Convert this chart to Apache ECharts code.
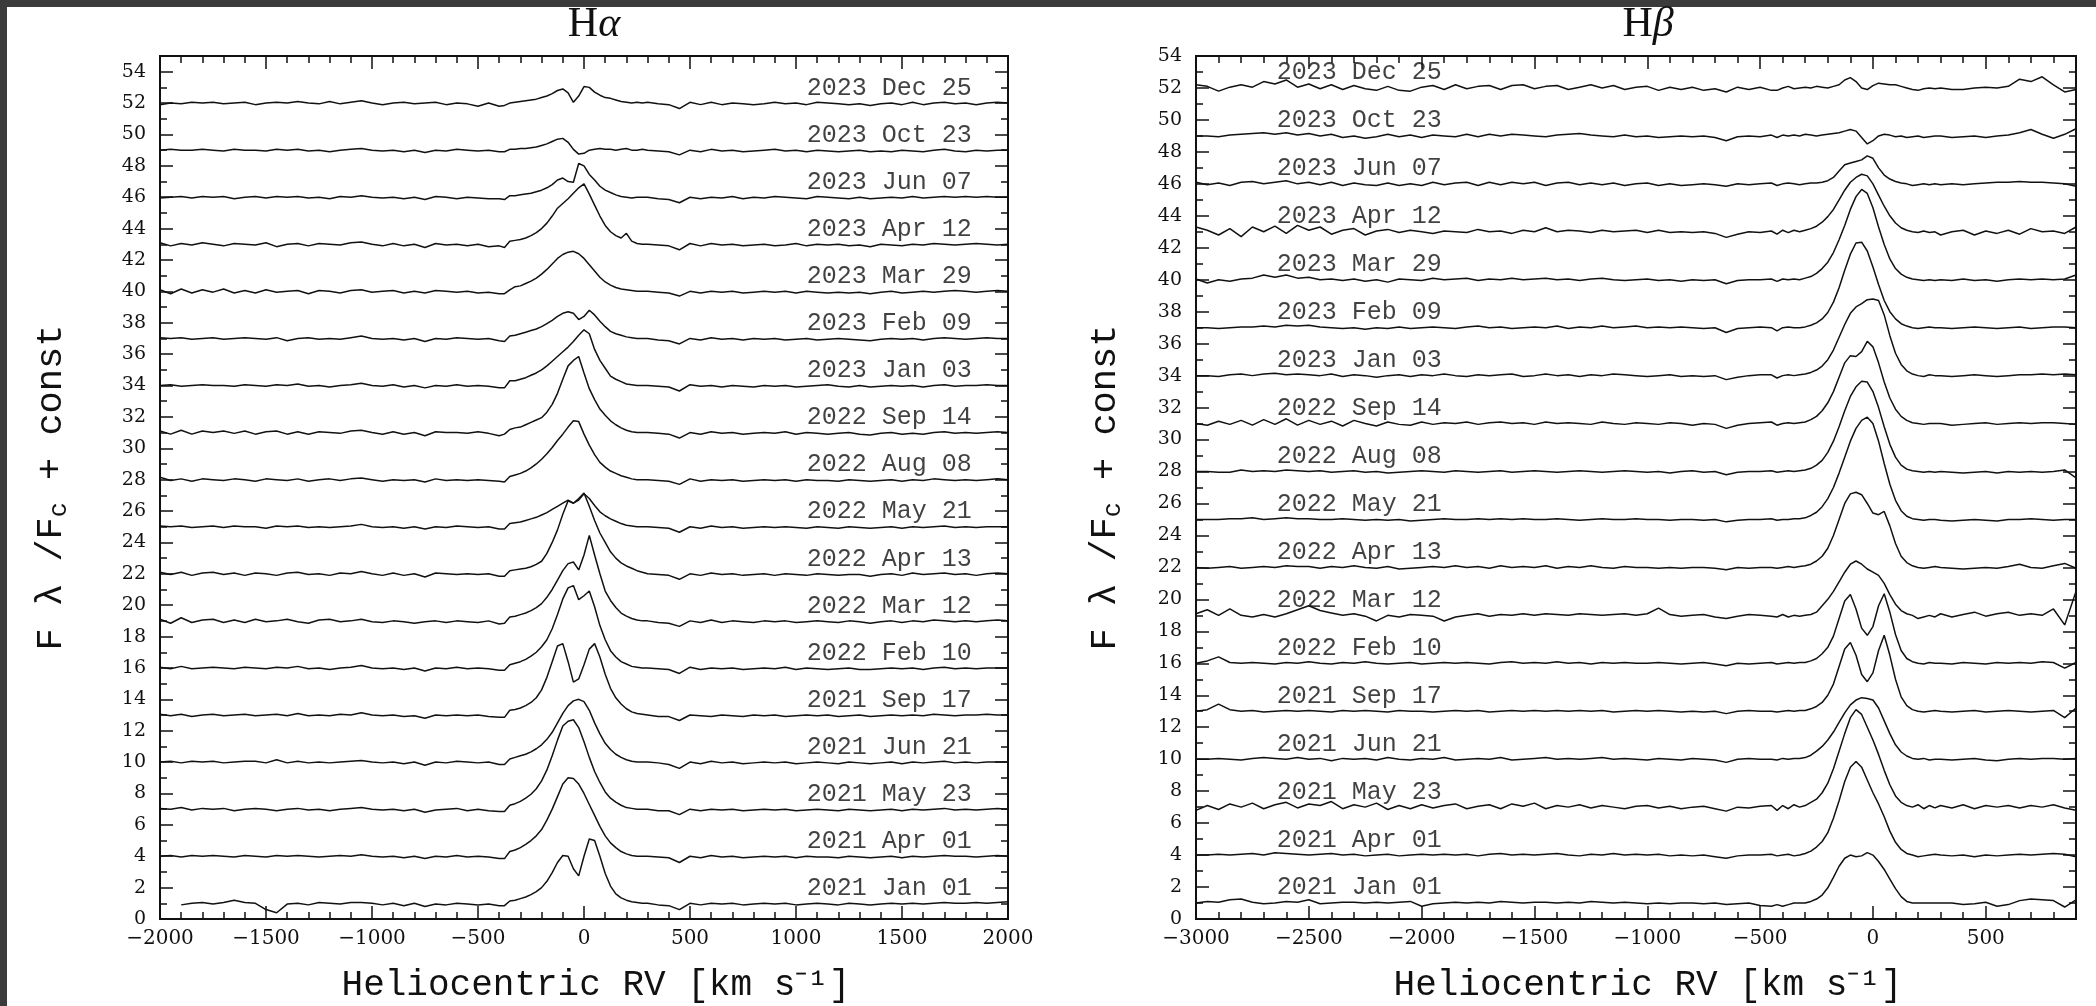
<!DOCTYPE html>
<html>
<head>
<meta charset="utf-8">
<title>H-alpha / H-beta spectra</title>
<script src="https://cdn.jsdelivr.net/npm/echarts/dist/echarts.min.js"></script>
<style>
  html, body { margin: 0; padding: 0; background: #fff; }
  #chart { width: 2096px; height: 1006px; }
</style>
</head>
<body>
<div id="chart"></div>
<script>
// observation dates, top spectrum first
const dates = ['2023 Dec 25', '2023 Oct 23', '2023 Jun 07', '2023 Apr 12', '2023 Mar 29', '2023 Feb 09',
  '2023 Jan 03', '2022 Sep 14', '2022 Aug 08', '2022 May 21', '2022 Apr 13', '2022 Mar 12',
  '2022 Feb 10', '2021 Sep 17', '2021 Jun 21', '2021 May 23', '2021 Apr 01', '2021 Jan 01']

// vertical shift (const) of each spectrum
const haOffsets = [52, 49, 46, 43, 40, 37, 34, 31, 28, 25, 22, 19, 16, 13, 10, 7, 4, 1]
const hbOffsets = [52, 49, 46, 43, 40, 37, 34, 31, 28, 25, 22, 19, 16, 13, 10, 7, 4, 1]

// velocity grids (km/s)
const haVel = [
  -2000,-1950,-1900,-1850,-1800,-1750,-1700,-1650,-1600,-1550,-1500,-1450,-1400,-1350,-1300,-1250,-1200,-1150,-1100,-1050,-1000,-950,-900,-850,-800,-750,-700,-650,-600,-550,-500,-450,-400,
  -375,-350,-325,-300,-275,-250,-225,-200,-175,-150,-125,-100,-75,-50,-25,0,25,50,75,100,125,150,175,200,225,250,275,
  300,350,400,450,500,550,600,650,700,750,800,850,900,950,1000,1050,1100,1150,1200,1250,1300,1350,1400,1450,1500,1550,1600,1650,1700,1750,1800,1850,1900,1950,2000]
const hbVel = [
  -3000,-2950,-2900,-2850,-2800,-2750,-2700,-2650,-2600,-2550,-2500,-2450,-2400,-2350,-2300,-2250,-2200,-2150,-2100,-2050,-2000,-1950,-1900,-1850,-1800,-1750,-1700,-1650,-1600,-1550,-1500,-1450,-1400,-1350,-1300,-1250,-1200,-1150,-1100,-1050,-1000,-950,-900,-850,-800,-750,-700,-650,-600,-550,-500,-450,
  -425,-400,-375,-350,-325,-300,-275,-250,-225,-200,-175,-150,-125,-100,-75,-50,-25,0,25,50,75,100,125,150,175,200,225,250,275,
  300,350,400,450,500,550,600,650,700,750,800,850,900]

// H-alpha: F/Fc - 1 (relative to each offset)
const ha_2023_Dec_25 = [
  -0.1,0,-0.05,0.05,0,0.05,-0.05,0,0.05,-0.1, 0,0.05,0,0.1,0,-0.05,0.1,-0.05,0.05,0.15, 0,-0.1,0,0.05,-0.05,0,0.05,-0.1,0,-0.05, -0.2,0,-0.2,
  -0.15,0,0.05,0.1,0.15,0.2,0.25,0.35,0.45,0.6, 0.8,0.9,0.65,0.05,0.45,1.05,1.0,0.7,0.5,0.35, 0.3,0.2,0.1,0.05,0,0.05,0,
  0.05,-0.05,-0.1,-0.35,0.05,-0.1,0.05,-0.1,0,-0.05, -0.1,-0.05,0.05,-0.05,0,-0.1,0.05,0,-0.05,-0.1, -0.05,-0.15,-0.05,0,-0.1,0.05,-0.1,0,0.05,-0.05, 0,-0.1,0,0.05,0]
const ha_2023_Oct_23 = [
  0,0.05,0,0,0.05,0,-0.05,0.05,0,0, -0.05,0.05,0,0.05,-0.05,0,-0.1,0,0.05,0.1, 0,-0.05,0,-0.1,0,-0.15,0,-0.05,0.05,0, -0.05,0,-0.1,
  -0.1,0.05,0.05,0.1,0.1,0.15,0.2,0.3,0.4,0.55, 0.7,0.75,0.5,0.05,-0.25,-0.2,0,0.05,0.1,0.05, 0.05,0,0.05,0.1,0,0,0.05,
  0,-0.05,-0.1,-0.3,0,-0.1,0.05,-0.05,0,-0.1, -0.05,0,0.05,-0.05,0,-0.1,0,-0.05,-0.1,-0.05, 0,-0.1,-0.05,-0.1,0,-0.05,-0.1,0,0.05,-0.05, -0.1,0,-0.05,0,0]
const ha_2023_Jun_07 = [
  -0.05,0,0.05,-0.05,0.05,0,0.05,-0.1,0,0.05, -0.05,0.05,0,0.05,-0.05,0,-0.1,0.05,0,0.1, 0,-0.05,0,-0.1,0,-0.15,0.05,0,-0.1,0, -0.05,-0.1,-0.1,
  -0.15,0.1,0.1,0.15,0.2,0.25,0.35,0.45,0.6,0.8, 1.1,1.22,1.0,0.95,2.15,2.0,1.45,1.1,0.7,0.45, 0.3,0.15,0.05,0,-0.05,0,0,
  0,-0.1,-0.15,-0.35,0,-0.1,0,-0.05,0.05,-0.1, 0,-0.05,0.05,0,-0.05,-0.1,0.05,0,-0.05,-0.1, 0,-0.1,-0.05,0,-0.05,0.05,-0.05,0,0.05,0, 0.05,0,0.05,0,0]
const ha_2023_Apr_12 = [
  0.1,-0.1,0.05,-0.05,0.1,0,-0.1,0.05,0,-0.05, 0.1,-0.15,0,0.05,-0.1,0.05,0,-0.05,0.1,0.15, 0,-0.1,0.05,-0.1,0,-0.2,0.05,-0.05,0,-0.1, 0,-0.15,-0.1,
  -0.2,0.2,0.25,0.3,0.4,0.55,0.75,1.0,1.35,1.8, 2.3,2.6,2.9,3.25,3.6,3.85,3.2,2.5,1.8,1.2, 0.8,0.55,0.4,0.7,0.2,0.05,0,
  0,-0.05,-0.1,-0.35,0.05,-0.1,0.05,-0.05,0,-0.1, -0.05,0,-0.1,-0.05,0.05,-0.1,0,-0.05,0,-0.1, -0.05,-0.15,0,-0.05,-0.1,0,-0.05,0.05,0,-0.05, 0,0.05,0,-0.05,0]
const ha_2023_Mar_29 = [
  0.1,-0.15,0.15,-0.1,0.1,-0.05,0.15,-0.1,0.05,-0.1, 0.1,-0.05,0,0.05,-0.15,0.05,0,-0.1,0.05,0.1, -0.05,0,0.05,-0.1,0,-0.1,0.05,0,-0.05,0, -0.1,-0.05,-0.15,
  -0.15,0.1,0.3,0.35,0.5,0.65,0.85,1.1,1.4,1.75, 2.1,2.35,2.5,2.55,2.4,2.1,1.7,1.3,0.9,0.6, 0.4,0.25,0.15,0.1,0.05,0,0,
  0,-0.05,-0.1,-0.3,0,-0.1,0,-0.05,0,-0.1, -0.05,0,-0.05,0,-0.1,0,-0.05,-0.1,-0.05,-0.1, -0.05,-0.15,-0.05,0,-0.1,-0.05,0,-0.05,0,0.05, 0,-0.05,0,0.05,0]
const ha_2023_Feb_09 = [
  0.05,0,0.05,-0.05,0,0.05,-0.05,0,0.05,0, -0.05,0.05,-0.15,0,0.05,-0.05,0,-0.05,0.05,0.15, 0,-0.05,0,-0.1,0,-0.2,0,-0.05,0.05,0, -0.05,0,-0.15,
  -0.2,0.15,0.2,0.3,0.4,0.5,0.6,0.75,0.95,1.15, 1.4,1.6,1.7,1.6,1.2,1.4,1.8,1.5,1.1,0.75, 0.45,0.3,0.2,0.1,0.05,0,0,
  0,-0.1,-0.15,-0.35,0,-0.1,0.05,-0.05,0,-0.1, 0,-0.05,0,-0.1,-0.05,0,-0.1,-0.05,0,-0.05, -0.1,-0.15,-0.05,0,-0.05,0,-0.1,0,0.05,0, -0.05,0,0.05,0,0]
const ha_2023_Jan_03 = [
  0,0.05,-0.05,0,0.05,0,0,-0.05,0.05,0, -0.05,0.05,0,0.1,-0.05,0,-0.1,0,0.05,0.15, 0,-0.05,0.05,-0.1,0,-0.15,0,-0.05,0.05,-0.05, 0,-0.05,-0.15,
  -0.15,0.3,0.3,0.4,0.5,0.65,0.8,1.0,1.25,1.55, 1.85,2.15,2.45,2.8,3.2,3.55,3.3,2.3,1.6,1.1, 0.6,0.4,0.25,0.1,0.05,0,0,
  0,-0.05,-0.1,-0.35,0.05,-0.05,0,-0.1,0,-0.05, -0.1,0,-0.05,0,-0.1,-0.05,0,0.05,-0.05,-0.1, 0,-0.1,-0.05,0,-0.05,0,-0.1,0,0.05,-0.05, 0,0,0.05,0,0]
const ha_2022_Sep_14 = [
  0.1,-0.1,0.15,-0.1,0.1,0,0.1,-0.05,0.1,-0.1, 0.05,0.1,-0.1,0.05,-0.1,0.05,0,-0.05,0.1,0.15, 0,-0.1,0.05,-0.1,0,-0.2,0.05,0,0,-0.05, 0.05,-0.05,-0.2,
  -0.1,0.2,0.3,0.35,0.5,0.65,0.8,0.95,1.3,1.8, 2.5,3.4,4.25,4.6,4.85,3.8,2.8,2.1,1.5,1.1, 0.75,0.5,0.3,0.15,0.05,0,0,
  0,-0.05,-0.1,-0.35,0,-0.1,0.05,-0.05,0,-0.1, -0.05,0,-0.05,0.05,-0.1,0,-0.05,-0.1,-0.05,0, -0.1,-0.15,-0.05,0,-0.1,-0.05,-0.1,0,0.05,-0.05, 0,-0.05,0,0.05,0]
const ha_2022_Aug_08 = [
  0.15,-0.05,0.05,-0.1,0.05,0,-0.05,0.05,0,-0.1, 0.05,0,-0.05,0.05,-0.1,0,0.05,-0.05,0.05,0.1, 0,-0.1,0,-0.05,0,-0.15,0.05,-0.05,0,-0.05, 0,-0.05,-0.1,
  -0.15,0.2,0.3,0.4,0.55,0.75,1.0,1.3,1.65,2.05, 2.5,2.9,3.35,3.75,3.7,2.9,2.2,1.6,1.1,0.8, 0.55,0.4,0.25,0.15,0.05,0,0,
  0,-0.05,-0.1,-0.3,0.05,-0.1,0,-0.05,0,-0.1, -0.05,0,-0.05,0,-0.1,0,-0.05,-0.05,-0.1,0, -0.05,-0.1,-0.05,0,-0.1,0,-0.05,0.05,0,-0.05, 0,-0.05,0,0.05,0]
const ha_2022_May_21 = [
  0.05,0,0.05,-0.05,0,0.05,-0.05,0.05,0,0, -0.1,0.05,0,0.05,-0.05,0,-0.05,0,0.05,0.15, 0,-0.05,0,-0.1,0,-0.15,0,-0.05,0.05,0, -0.05,0,-0.15,
  -0.15,0.2,0.25,0.3,0.4,0.5,0.6,0.75,0.9,1.1, 1.3,1.5,1.7,1.5,1.7,2.1,1.8,1.35,0.95,0.7, 0.5,0.35,0.2,0.1,0.05,0,0,
  0,-0.05,-0.1,-0.35,0,-0.1,0.05,-0.05,0,-0.1, -0.05,0,-0.05,0,-0.05,-0.1,0,-0.05,-0.1,0, -0.05,-0.1,-0.05,0,-0.1,0,-0.05,0,0.05,-0.05, 0,-0.05,0,0,0]
const ha_2022_Apr_13 = [
  0.1,-0.05,0.1,-0.1,0.05,0.1,-0.05,0.05,-0.1,0.05, 0,-0.1,0.05,0.1,-0.05,0,-0.1,0.05,0,0.15, 0,-0.1,0.05,-0.1,0,-0.2,0.05,0,-0.05,0, -0.05,0,-0.15,
  -0.15,0.2,0.25,0.3,0.35,0.45,0.6,0.8,1.3,2.0, 2.8,3.8,4.65,4.5,4.8,5.15,4.3,3.4,2.6,2.0, 1.4,1.0,0.7,0.5,0.35,0.2,0.1,
  0,-0.05,-0.1,-0.35,0,-0.1,0.05,-0.05,0,-0.1, -0.05,0,-0.1,0,-0.05,-0.1,0,-0.05,-0.1,-0.05, -0.05,-0.15,-0.05,0,-0.1,0.05,-0.05,0,0.05,-0.05, 0,-0.1,0,0.05,0]
const ha_2022_Mar_12 = [
  0.1,-0.15,0.2,-0.1,0.05,0.1,-0.1,0.05,-0.1,0.1, -0.05,0,0.1,-0.05,-0.15,0.05,0.1,-0.05,0,0.1, -0.05,-0.1,0,-0.05,-0.15,-0.05,0,-0.1,0,-0.05, -0.1,0,-0.2,
  -0.15,0.25,0.3,0.4,0.5,0.65,0.85,1.1,1.5,2.0, 2.6,3.2,3.65,3.75,3.25,4.2,5.45,4.2,3.0,1.9, 1.3,0.85,0.5,0.3,0.15,0.05,0,
  0,-0.1,-0.15,-0.35,0,-0.1,0.05,-0.1,0,-0.05, -0.1,0,-0.05,0,-0.1,-0.05,0,-0.05,-0.1,0, -0.05,-0.15,-0.05,0,-0.1,0,-0.05,0.05,0,-0.05, 0,-0.05,0,0.05,0]
const ha_2022_Feb_10 = [
  0.05,-0.05,0.1,-0.05,0,0.05,0,-0.05,0.05,0, -0.05,0.05,0,0.1,-0.05,0,-0.1,0,0.05,0.15, 0,-0.05,0,-0.1,0,-0.2,0,-0.05,0.05,-0.05, 0,-0.05,-0.15,
  -0.15,0.2,0.3,0.4,0.55,0.75,1.0,1.35,1.8,2.5, 3.4,4.4,5.1,5.25,4.35,4.6,4.9,3.9,2.7,1.8, 1.1,0.7,0.4,0.25,0.1,0.05,0,
  0,-0.05,-0.1,-0.35,0.05,-0.1,0,-0.05,0,-0.1, -0.05,0,-0.05,0.05,-0.1,0,-0.05,-0.1,-0.05,0, -0.1,-0.1,-0.05,0,-0.05,0,-0.1,0,0.05,-0.05, 0,-0.05,0,0,0]
const ha_2021_Sep_17 = [
  0.05,-0.05,0.05,-0.1,0,0.05,-0.05,0,0.05,-0.05, 0,0.05,-0.05,0.1,-0.05,0,-0.05,0.05,0,0.15, 0,-0.05,0,-0.1,-0.05,-0.2,0,-0.05,0,-0.05, 0,-0.1,-0.15,
  -0.15,0.3,0.35,0.45,0.6,0.8,1.1,1.6,2.4,3.4, 4.4,4.55,3.4,2.1,2.3,3.2,4.2,4.55,3.7,2.6, 1.7,1.1,0.7,0.4,0.2,0.1,0.05,
  0,-0.1,-0.1,-0.35,0,-0.05,-0.1,0,-0.05,-0.1, 0,-0.05,0,-0.1,-0.05,0,-0.05,0,-0.1,-0.05, 0,-0.1,-0.05,0,-0.05,0,-0.05,0.05,0,-0.05, 0,0,0.05,0,0]
const ha_2021_Jun_21 = [
  0,0.05,-0.05,0.05,0,0.05,-0.05,0,0.05,0.05, -0.05,0.15,-0.05,0.05,-0.05,0,-0.05,0,0.05,0.1, 0,-0.05,0,-0.1,0,-0.2,0,-0.05,0.05,0, -0.05,0,-0.15,
  -0.15,0.2,0.3,0.4,0.5,0.65,0.85,1.1,1.45,1.9, 2.5,3.1,3.6,3.9,4.0,3.85,3.3,2.5,1.8,1.2, 0.8,0.5,0.3,0.15,0.05,0,0,
  0,-0.05,-0.15,-0.4,0,-0.1,0.05,-0.05,0,-0.1, -0.05,0,-0.05,0,-0.1,-0.05,0,-0.05,-0.1,0, -0.05,-0.1,-0.05,0,-0.1,0,-0.05,0,0.05,-0.05, 0,-0.05,0,0,0]
const ha_2021_May_23 = [
  0.05,0,0.1,-0.05,0.05,0,0.05,-0.1,0,0.05, 0,-0.1,0,0.05,-0.05,0,-0.1,0,0.05,0.1, 0,-0.05,0,-0.1,0,-0.2,-0.05,0,0.05,-0.1, 0,-0.1,-0.15,
  -0.15,0.25,0.35,0.5,0.7,0.95,1.3,1.8,2.5,3.4, 4.4,5.3,5.6,5.7,5.2,4.3,3.3,2.4,1.7,1.1, 0.7,0.45,0.25,0.1,0.05,0,0,
  0,-0.1,-0.1,-0.35,0,-0.1,0,-0.05,0,-0.1, -0.05,0,-0.05,0,-0.1,-0.05,0,-0.05,-0.1,0, -0.05,-0.1,-0.05,0,-0.1,0,-0.05,0,0.05,-0.05, 0,-0.05,0,0.05,0]
const ha_2021_Apr_01 = [
  0,0.05,-0.05,0.05,0,0.05,0,-0.05,0.05,0, -0.05,0.05,0,0.05,0,-0.05,0,0.05,0,0.1, 0,-0.05,0,-0.1,0,-0.15,0,-0.05,0.05,-0.05, 0,-0.05,-0.15,
  -0.15,0.3,0.4,0.55,0.75,1.0,1.3,1.7,2.3,3.0, 3.8,4.6,5.0,4.95,4.6,4.0,3.3,2.6,1.9,1.3, 0.85,0.55,0.3,0.15,0.05,0,0,
  0,-0.05,-0.1,-0.4,0,-0.1,0.05,-0.05,0,-0.1, -0.05,0,-0.05,0,-0.1,0,-0.05,-0.05,-0.1,0, -0.05,-0.1,-0.05,0,-0.1,0,-0.05,0,0.05,0, 0,-0.05,0,0.05,0]
const ha_2021_Jan_01 = [
  null,null,-0.1,0,0.05,-0.05,0.05,0.2,0.05,0, -0.4,-0.6,-0.05,0,-0.1,0.05,0,-0.05,0.05,0.05, 0,-0.1,0,-0.15,0,-0.2,-0.05,-0.1,0,-0.05, -0.1,-0.05,-0.15,
  -0.15,0.15,0.2,0.3,0.4,0.55,0.75,1.0,1.4,1.95, 2.6,3.05,3.0,2.2,1.75,3.0,4.1,4.0,3.0,1.9, 1.1,0.6,0.35,0.2,0.1,0.05,0,
  0,-0.1,-0.15,-0.4,0,-0.1,0,-0.05,0,-0.1, -0.05,0,-0.05,0,-0.1,-0.05,0,-0.05,-0.1,0, -0.05,-0.1,-0.05,0,-0.05,0,-0.05,0,0.05,0, 0,0.05,0,0.05,0.1]

// H-beta: F/Fc - 1 (relative to each offset)
const hb_2023_Dec_25 = [
  0.2,0.1,-0.2,0.05,0.2,0.05,0.4,0.25,0.5,0.05, 0.25,-0.05,0.2,-0.1,0.15,-0.05,-0.15,0.1,-0.15,-0.2, 0.05,0.15,-0.1,0.2,-0.05,0.1,0.15,-0.1,0.15,0.2, -0.05,0.1,0.15,-0.1,0.05,0.2,0,0.15,-0.1,0.05, 0.1,-0.15,0.05,-0.1,0.05,-0.15,-0.05,-0.25,0.05,-0.1, 0.05,-0.15,
  -0.15,0,0.1,-0.05,0,0.05,0,0.1,0.05,0, 0.1,0.2,0.5,0.65,0.4,0,-0.1,0.15,0.3,0.25, 0.2,0.2,0.1,0,-0.1,-0.15,-0.05,0,-0.05,
  0,-0.1,-0.1,0,0.05,0,0.1,0.55,0.4,0.7,0.2,-0.25,-0.1]
const hb_2023_Oct_23 = [
  0,0,-0.05,0.05,0.1,0.15,0.2,0.1,0.2,0.05, 0.15,0,0.1,-0.1,0,-0.15,-0.05,0.1,-0.05,0.05, -0.1,0.05,0,-0.05,0.1,-0.05,0.1,0,0.1,0.05, 0,-0.05,0.05,0.1,0.15,0.05,0,-0.05,0.05,-0.05, 0,-0.1,-0.05,0,-0.05,0,-0.1,-0.3,-0.05,0, -0.05,0.05,
  -0.1,0.05,0,0.05,0,0.1,0.05,0,0.05,0.1, 0.15,0.2,0.3,0.4,0.3,-0.1,-0.5,-0.3,0,0.1, 0.05,-0.05,0,-0.1,-0.05,0,-0.1,-0.05,0,
  0,-0.1,-0.05,0,-0.1,0,0.05,0.2,0.4,0.1,-0.15,0.1,0.45]
const hb_2023_Jun_07 = [
  0.1,-0.05,0.05,-0.1,0.1,0.15,0,0.1,0.2,0, 0.1,-0.05,0.1,-0.1,0.05,-0.05,-0.1,0.05,-0.1,0, -0.1,0.1,-0.05,0.05,0.1,-0.1,0.1,-0.05,0.1,0, 0.1,-0.1,0.05,0.1,-0.05,0.05,-0.05,0.05,-0.1,0, 0.05,-0.1,0,-0.1,-0.05,0,-0.05,-0.15,0,-0.05, 0,0.05,
  -0.1,0,0.05,0,-0.05,0,0.05,0.05,0.1,0.2, 0.4,0.8,1.2,1.3,1.4,1.5,1.75,1.6,1.0,0.55, 0.3,0.15,0.05,0,-0.1,-0.05,0,-0.05,0,
  -0.05,0,-0.05,0,0.05,0.1,0.1,0.15,0.1,0.1,0.05,0,-0.15]
const hb_2023_Apr_12 = [
  0.3,0.1,-0.2,0.2,-0.3,0.3,0,0.35,-0.1,0.4, 0.1,0.3,-0.15,0.1,0.2,-0.2,0.05,0.15,-0.05,0.1, 0,-0.1,0.05,0,-0.05,0.15,0,0.05,-0.1,0.1, 0,0.25,0,0.1,0.05,-0.05,0.1,0,0.05,0.1, -0.05,0.1,-0.05,0,-0.05,0,-0.1,-0.35,-0.15,0, -0.05,0.05,
  -0.15,0.1,-0.05,0.1,0,0.1,0.2,0.35,0.6,0.95, 1.4,2.0,2.6,3.1,3.4,3.6,3.5,3.0,2.3,1.6, 1.0,0.55,0.25,0.1,0,-0.05,0.05,-0.05,0,
  -0.2,0,0.1,-0.2,0.05,-0.1,0.1,-0.15,0.2,0,0.05,-0.1,0.3]
const hb_2023_Mar_29 = [
  0.05,-0.2,0,-0.1,0.05,0.1,0.3,0.15,0.3,0.1, 0.15,0,0.05,-0.05,0.05,-0.1,0,-0.15,0.05,0, -0.05,0.1,0,0.05,0.1,-0.05,0.05,0,0.1,0, 0.05,0.1,0,0.05,-0.05,0.05,0.1,0,-0.05,0, 0.05,-0.05,0,-0.1,0,-0.05,0,-0.25,-0.05,0, 0,0.05,
  -0.1,0.05,0,0.05,0,0.1,0.2,0.4,0.7,1.1, 1.7,2.5,3.4,4.4,5.2,5.65,5.4,4.5,3.3,2.2, 1.3,0.7,0.35,0.15,0.05,0,-0.05,0,-0.05,
  0,-0.05,0.05,-0.05,0,-0.1,0,0.05,0,0.05,0,0.05,0.3]
const hb_2023_Feb_09 = [
  0,0,-0.05,0,0.05,0.05,0.1,0.05,0.15,0.1, 0.15,0.05,0,-0.05,0,-0.1,0,-0.05,0.05,-0.05, 0,0.05,0,-0.05,0.05,0.1,0,0.05,-0.05,0, 0.05,0,0.1,-0.05,0.05,0,0.1,0,0.05,0.1, 0,0.05,0,0.05,0,-0.05,0,-0.3,-0.05,0, 0.05,0,
  -0.2,0,0.05,0,0,0.05,0.15,0.3,0.55,0.95, 1.6,2.5,3.6,4.6,5.3,5.35,4.8,3.8,2.7,1.7, 1.0,0.55,0.25,0.1,0,-0.05,0,0.05,0,
  0,-0.05,0,0.05,0,-0.05,0,0.05,-0.05,0,0.05,0.05,0]
const hb_2023_Jan_03 = [
  0,0,-0.05,0.05,0.1,0,0.1,0.15,0.05,0.1, 0.05,0,0.1,-0.05,0.05,0,-0.1,0,0.05,-0.05, 0.05,0,0.1,0,-0.05,0.05,0,0.05,0.1,-0.05, 0,0.1,0,0.05,-0.05,0.05,0,0.1,0.05,0, -0.05,0,0.05,-0.05,0,-0.05,0,-0.25,-0.1,0, 0.05,0.05,
  -0.15,0,0.05,0,0.05,0.1,0.2,0.35,0.6,1.0, 1.6,2.4,3.2,3.9,4.3,4.5,4.75,4.8,4.7,3.8, 2.5,1.4,0.7,0.3,0.1,0,-0.05,0.05,0,
  0,-0.05,0,0.05,0,-0.05,0,0.05,0.05,0.1,0.05,0.1,0.05]
const hb_2022_Sep_14 = [
  0,-0.1,0.15,-0.05,0.2,-0.1,0.25,-0.05,0.3,-0.1, 0.2,-0.05,0.15,-0.15,0.2,0,-0.15,0.1,-0.05,-0.1, 0.1,-0.05,0.05,0,0.1,-0.05,0.05,0.1,0,0.05, -0.05,0.1,0,0.05,0,-0.05,0.1,0,-0.05,0.05, 0,-0.05,0.05,0,-0.1,0,-0.05,-0.3,-0.1,0, 0.05,0.1,
  -0.1,0,0.05,0,0.05,0.1,0.25,0.45,0.8,1.3, 2.0,2.9,3.8,4.25,4.2,4.5,5.15,4.8,3.8,2.6, 1.6,0.9,0.45,0.2,0.05,0,-0.05,0,0,
  0,-0.1,-0.05,0,0.05,-0.05,0,0.05,0,0.05,0.05,0,-0.05]
const hb_2022_Aug_08 = [
  0,0,-0.05,-0.05,0.1,0,0.05,0,0.1,0.05, 0,0.05,-0.05,0,0.05,-0.05,0,-0.1,-0.05,0, 0.05,0,-0.05,0.05,0,-0.05,0,0.05,-0.05,0, 0.05,0,-0.05,0,0.05,0,-0.05,0,0.05,0, -0.05,0,-0.1,0,0.05,-0.05,0,-0.2,-0.05,0, 0,0.05,
  -0.05,0,0.05,0,0.05,0.1,0.2,0.4,0.7,1.2, 1.9,2.8,3.8,4.7,5.3,5.65,5.6,5.0,4.0,2.8, 1.7,0.9,0.4,0.15,0.05,0,-0.05,0,-0.05,
  0,-0.05,-0.1,-0.05,0,-0.1,0,-0.05,0,-0.05,0,0.1,-0.4]
const hb_2022_May_21 = [
  0,0,0,0.05,0.05,0.1,0,0.05,0.1,0.05, 0.05,0,0,0.05,0,-0.05,0,-0.05,0,-0.1, -0.05,0,0.05,0,0,0.05,0,0.05,0,0.05, 0,0,0.05,0,-0.05,0,0.05,0,0,0.05, 0,0,-0.05,0,0,-0.05,0,-0.15,-0.05,0, 0,0.05,
  -0.05,0,0,0.05,0.05,0.1,0.25,0.45,0.8,1.3, 2.0,2.9,3.9,4.9,5.7,6.2,6.4,6.0,4.9,3.5, 2.2,1.2,0.55,0.2,0.05,0,-0.05,0,0,
  -0.05,-0.1,-0.05,0,-0.05,-0.1,0,0,0.05,0,-0.05,0,0]
const hb_2022_Apr_13 = [
  0,-0.05,0,0.05,-0.05,0,0.05,0,0.1,0.05, 0.05,-0.05,0.05,0,0.1,0,-0.05,0.05,-0.1,-0.05, 0,0.05,0,0.1,0,0.05,-0.05,0.1,0,0.05, 0,0.1,-0.05,0.05,0,0.1,0,-0.05,0.05,0, 0,-0.05,0,-0.05,0,0,-0.05,-0.15,0,-0.05, 0,0,
  -0.05,0,0.05,0,0.05,0.1,0.2,0.4,0.7,1.2, 2.0,3.0,4.0,4.6,4.7,4.55,4.0,3.4,3.3,3.5, 2.6,1.5,0.7,0.3,0.1,0,-0.05,0,0.05,
  0,-0.05,-0.1,-0.05,0,-0.05,0.05,0.2,0,-0.05,0.1,0.25,-0.05]
const hb_2022_Mar_12 = [
  0.1,0.35,0,0.4,0,-0.1,0.05,-0.1,0.1,0.35, 0.6,0.3,0.15,0,0.1,-0.05,-0.35,0,-0.1,0.05, 0,-0.05,-0.35,-0.1,0,0.1,-0.05,0.05,0,0.1, 0,0.1,0.05,0,0.1,0.05,0,0.05,0.1,0, 0.1,0.45,0.05,-0.05,0,0.05,-0.1,-0.2,-0.05,0.05, 0,-0.05,
  -0.1,0.05,-0.1,0,-0.05,0,0.05,0.2,0.6,1.0, 1.5,2.1,2.7,3.2,3.4,3.2,2.9,2.7,2.5,2.0, 1.3,0.7,0.3,0.1,0,-0.2,-0.1,0,-0.1,
  0.1,-0.1,0.05,0.2,-0.05,0.1,0.2,0,0.1,0,0.4,-0.6,1.5]
const hb_2022_Feb_10 = [
  0,0.15,0.4,0.05,0,0.05,0,-0.05,0.05,0, 0.1,0,-0.05,0.05,0,0.1,0,-0.05,0,0.05, -0.05,0,0.05,0,0.05,0,-0.05,0.05,0.1,0, 0.05,0,0.1,0,0.05,-0.05,0.05,0,0.05,0, 0,0.05,0,-0.05,0,0.05,-0.05,-0.15,0,-0.05, 0,0.05,
  -0.05,0,0.05,0,0.05,0.05,0.15,0.3,0.6,1.0, 1.7,2.8,3.9,4.3,3.4,2.2,1.75,2.3,3.6,4.35, 3.2,1.8,0.8,0.3,0.1,0,-0.05,0.05,0,
  0,-0.05,0.05,0,-0.05,0.05,0,0.05,0,0.1,0.05,-0.3,0.05]
const hb_2021_Sep_17 = [
  0,0.1,0.45,0.1,0,0.05,-0.05,0,0.05,0, 0.05,0,-0.05,0.05,0,0.05,0,-0.05,0.05,0, 0,-0.05,0,0.05,0,0.05,-0.05,0,0.05,0, 0.05,0,0.05,0,0.05,0,0.05,-0.05,0,0.05, 0,0.05,0,-0.05,0,-0.05,0,-0.15,0,0.05, 0,0,
  -0.05,0,0.05,0,0.05,0.05,0.15,0.3,0.55,1.0, 1.7,2.8,3.9,4.3,3.5,2.3,1.85,2.4,3.8,4.75, 3.5,2.0,0.9,0.35,0.1,0,-0.05,0,0.05,
  0,-0.05,0,0.05,-0.05,0,0.05,0,-0.05,0,0.05,-0.4,0.2]
const hb_2021_Jun_21 = [
  0,0,0.05,0,-0.05,0.05,0.1,0.05,0,0.1, 0,0.05,-0.1,0.05,0,0.05,-0.05,0.1,0,-0.05, 0.05,0,0.1,-0.05,0,0.05,0,0.1,-0.05,0, 0.05,0.1,0,0.05,0,0.05,0.1,0,0.05,0, -0.05,0.05,0,-0.05,0.05,0,-0.05,-0.2,0,0.05, 0,0,
  -0.05,0.05,0,0.05,0.05,0.1,0.25,0.5,0.8,1.2, 1.7,2.3,2.9,3.4,3.7,3.85,3.8,3.7,3.2,2.4, 1.6,0.9,0.45,0.2,0.05,0,0.05,-0.05,0,
  0,-0.05,0,0.05,-0.05,-0.1,0,0.05,0,0.05,0.05,0,0.05]
const hb_2021_May_23 = [
  -0.2,0.1,-0.15,0.2,0,0.25,-0.1,0.15,0.3,-0.05, 0.2,0.1,0.35,-0.1,0.15,0,0.25,-0.15,0.1,-0.1, 0.15,-0.05,0.1,0.2,-0.1,0.05,0.15,-0.1,0.2,0.05, 0.25,-0.1,0.1,0,0.15,-0.05,0.1,0,-0.1,0.05, 0.1,-0.05,0.05,-0.1,0,0.05,-0.1,-0.25,0,-0.05, 0.05,0.1,
  -0.2,0.1,-0.1,0.15,0,0.1,0.3,0.5,0.9,1.5, 2.4,3.5,4.6,5.6,6.1,5.8,5.0,4.2,3.3,2.3, 1.4,0.7,0.3,0.1,0,0.15,-0.1,0.1,-0.05,
  0.1,-0.05,0.15,-0.1,0.1,0,0.1,-0.05,0.1,0,0.15,-0.05,-0.2]
const hb_2021_Apr_01 = [
  0,0,0.05,0,0.05,0.1,0,0.15,0.1,0.05, 0,0.05,0.1,0,0.05,-0.05,0,0.05,-0.05,0, 0.05,0,0.05,0,0.05,-0.05,0.05,0.1,0,0.05, 0,0.05,0.1,0,-0.05,0.05,0,0.1,0,0.05, 0,0.05,-0.05,0,-0.05,0,-0.1,-0.2,-0.05,0, 0,0.05,
  -0.05,0,0.05,-0.05,0,0.1,0.25,0.5,0.85,1.4, 2.3,3.4,4.6,5.5,5.85,5.5,4.7,3.9,3.2,2.4, 1.5,0.8,0.35,0.1,0,-0.1,-0.05,0,0.05,
  0,-0.05,0,-0.1,0,-0.05,0,0.05,0,0.05,0.1,0.05,-0.1]
const hb_2021_Jan_01 = [
  0,0.1,0.05,0.2,0.25,0.05,-0.05,0,0.1,0.05, 0.2,-0.05,0,0.05,0.05,0,0.05,0,0.05,0.1, -0.2,-0.05,0,0.05,0,0.05,0,0.1,0.05,0, 0.05,0.05,0,0.05,0,0.1,0.05,0,0.05,0, -0.05,0,-0.05,0,0,-0.05,0,-0.1,-0.05,0, -0.15,-0.2,
  -0.1,-0.2,-0.1,0,0,0,0.1,0.25,0.5,0.95, 1.6,2.3,2.8,3.0,2.9,2.95,3.15,3.0,2.6,2.1, 1.5,0.9,0.4,0.1,0,0,0,0,0,
  0,0,-0.1,-0.05,0.05,-0.2,-0.1,0.15,0.25,0.2,0.15,-0.25,0.2]

const haRows = [ha_2023_Dec_25, ha_2023_Oct_23, ha_2023_Jun_07, ha_2023_Apr_12, ha_2023_Mar_29, ha_2023_Feb_09,
  ha_2023_Jan_03, ha_2022_Sep_14, ha_2022_Aug_08, ha_2022_May_21, ha_2022_Apr_13, ha_2022_Mar_12,
  ha_2022_Feb_10, ha_2021_Sep_17, ha_2021_Jun_21, ha_2021_May_23, ha_2021_Apr_01, ha_2021_Jan_01]
const hbRows = [hb_2023_Dec_25, hb_2023_Oct_23, hb_2023_Jun_07, hb_2023_Apr_12, hb_2023_Mar_29, hb_2023_Feb_09,
  hb_2023_Jan_03, hb_2022_Sep_14, hb_2022_Aug_08, hb_2022_May_21, hb_2022_Apr_13, hb_2022_Mar_12,
  hb_2022_Feb_10, hb_2021_Sep_17, hb_2021_Jun_21, hb_2021_May_23, hb_2021_Apr_01, hb_2021_Jan_01]

const ink = '#111111'

// spectrum + const -> [velocity, flux] pairs
const buildLines = (rows, vel, offsets) => rows.map((row, i) =>
  row.map((v, k) => [vel[k], v === null ? null : Math.round((offsets[i] + v) * 1000) / 1000]))

const haLines = buildLines(haRows, haVel, haOffsets)
const hbLines = buildLines(hbRows, hbVel, hbOffsets)

const minus = v => String(v).replace('-', '\u2212')

// one frame side: ticks pointing inward, optional labels
const side = (grid, min, max, interval, position, len, extra) => Object.assign({
  type: 'value', gridIndex: grid, position, min, max, interval,
  axisLine: { show: true, onZero: false, lineStyle: { color: ink, width: 2 } },
  axisTick: { show: true, inside: true, length: len, lineStyle: { color: ink, width: 1.5 } },
  axisLabel: { show: false },
  splitLine: { show: false }
}, extra || {})

const xName = 'Heliocentric RV [km s\u207B\u00B9]'
const xNameStyle = { fontFamily: 'Liberation Mono', fontSize: 36, color: ink, padding: [0, 0, 0, 24] }
const xLabels = { show: true, fontFamily: 'DejaVu Serif', fontSize: 20, color: ink, margin: 10, formatter: minus }
const yLabels = { show: true, fontFamily: 'DejaVu Serif', fontSize: 19, color: ink, margin: 14 }
const yName = '{a|F \u03BB /F}{s|c}{a| + const}'
const yNameStyle = {
  color: ink,
  rich: {
    a: { fontFamily: 'Liberation Mono', fontSize: 37, color: ink },
    s: { fontFamily: 'Liberation Mono', fontSize: 25, color: ink, padding: [16, 0, 0, 0] }
  }
}

const xAxis = [
  side(0, -2000, 2000, 500, 'bottom', 13, { axisLabel: xLabels, name: xName, nameLocation: 'middle', nameGap: 48, nameTextStyle: xNameStyle }),
  side(0, -2000, 2000, 100, 'bottom', 7),
  side(0, -2000, 2000, 500, 'top', 13),
  side(0, -2000, 2000, 100, 'top', 7),
  side(1, -3000, 900, 500, 'bottom', 13, { axisLabel: Object.assign({ showMaxLabel: false }, xLabels), name: xName, nameLocation: 'middle', nameGap: 48, nameTextStyle: xNameStyle }),
  side(1, -3000, 900, 100, 'bottom', 7),
  side(1, -3000, 900, 500, 'top', 13),
  side(1, -3000, 900, 100, 'top', 7)
]
const yAxis = [
  side(0, 0, 55, 2, 'left', 13, { axisLabel: Object.assign({ showMaxLabel: false }, yLabels), name: yName, nameLocation: 'middle', nameRotate: 90, nameGap: 88, nameTextStyle: yNameStyle }),
  side(0, 0, 55, 1, 'left', 7),
  side(0, 0, 55, 2, 'right', 13),
  side(0, 0, 55, 1, 'right', 7),
  side(1, 0, 54, 2, 'left', 13, { axisLabel: yLabels, name: yName, nameLocation: 'middle', nameRotate: 90, nameGap: 70, nameTextStyle: yNameStyle }),
  side(1, 0, 54, 1, 'left', 7),
  side(1, 0, 54, 2, 'right', 13),
  side(1, 0, 54, 1, 'right', 7)
]

const lineSeries = (lines, xi, yi) => lines.map((data, i) => ({
  name: dates[i],
  type: 'line',
  xAxisIndex: xi,
  yAxisIndex: yi,
  data,
  showSymbol: false,
  symbol: 'none',
  silent: true,
  connectNulls: false,
  lineStyle: { color: ink, width: 1.5 }
}))

// date tags; centred at a fixed velocity, one unit above each offset
const labelSeries = (offsets, xCenter, xi, yi) => ({
  type: 'scatter',
  xAxisIndex: xi,
  yAxisIndex: yi,
  silent: true,
  symbolSize: 1,
  itemStyle: { color: 'rgba(0,0,0,0)' },
  data: dates.map((d, i) => [xCenter, offsets[i] + 0.95, d]),
  label: {
    show: true,
    position: 'inside',
    formatter: p => p.value[2],
    fontFamily: 'Liberation Mono',
    fontSize: 25,
    color: ink
  }
})

const titleText = (x, greek) => ({
  type: 'text',
  x,
  y: 25,
  silent: true,
  style: {
    text: '{h|H}{g|' + greek + '}',
    align: 'center',
    verticalAlign: 'middle',
    textAlign: 'center',
    textVerticalAlign: 'middle',
    rich: {
      h: { fontFamily: 'Liberation Serif', fontSize: 42, fill: ink, color: ink },
      g: { fontFamily: 'Liberation Serif', fontStyle: 'italic', fontSize: 42, fill: ink, color: ink }
    }
  }
})

const chart = echarts.init(document.getElementById('chart'), null, { renderer: 'canvas' })
chart.setOption({
  animation: false,
  backgroundColor: '#ffffff',
  grid: [
    { left: 160, top: 56, width: 848, height: 863, outerBoundsMode: 'none' },
    { left: 1196, top: 56, width: 880, height: 863, outerBoundsMode: 'none' }
  ],
  xAxis,
  yAxis,
  graphic: [
    { type: 'rect', silent: true, shape: { x: 0, y: 0, width: 2096, height: 7 }, style: { fill: '#3b3b3b' } },
    { type: 'rect', silent: true, shape: { x: 0, y: 0, width: 7, height: 1006 }, style: { fill: '#3b3b3b' } },
    titleText(594, '\u03B1'),
    titleText(1648, '\u03B2')
  ],
  series: [
    ...lineSeries(haLines, 0, 0),
    labelSeries(haOffsets, 1440, 0, 0),
    ...lineSeries(hbLines, 4, 4),
    labelSeries(hbOffsets, -2277, 4, 4)
  ]
})

window.addEventListener('resize', () => chart.resize())
</script>
</body>
</html>
